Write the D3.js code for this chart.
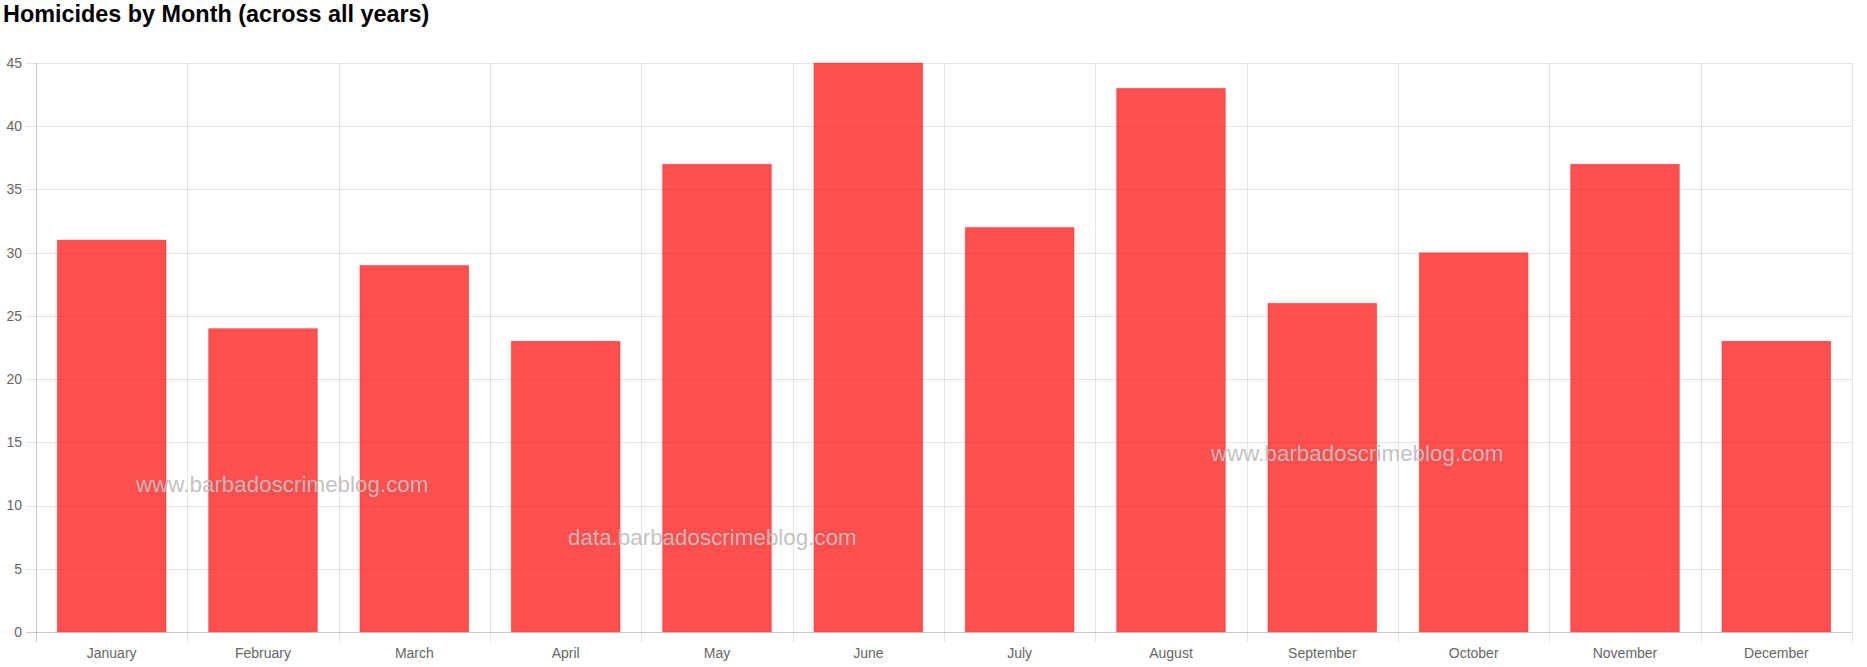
<!DOCTYPE html>
<html><head><meta charset="utf-8">
<script src="https://cdn.jsdelivr.net/npm/d3@7"></script>
<style>
html,body{margin:0;padding:0;background:#fff;}
svg{display:block;font-family:"Liberation Sans",Arial,sans-serif;}
</style></head>
<body><svg id="chart" width="1867" height="667"></svg>
<script>
const months = ["January","February","March","April","May","June","July","August","September","October","November","December"];
const homicides = [31,24,29,23,37,45,32,43,26,30,37,23];
const yTicks = [0,5,10,15,20,25,30,35,40,45];
const title = "Homicides by Month (across all years)";
const watermarks = [
  {text:"www.barbadoscrimeblog.com", x:136, y:492},
  {text:"data.barbadoscrimeblog.com", x:568, y:545},
  {text:"www.barbadoscrimeblog.com", x:1211, y:461}
];

const svg = d3.select("#chart");
const plotLeft = 36, plotRight = 1852, plotTop = 63, plotBottom = 632;

const x = d3.scaleBand().domain(months).range([plotLeft, plotRight]).paddingInner(0).paddingOuter(0);
const y = d3.scaleLinear().domain([0,45]).range([plotBottom, plotTop]);

svg.append("text").attr("x",3).attr("y",21.5)
  .attr("font-size",23.4).attr("font-weight","bold").attr("fill","#000").text(title);

// horizontal grid
svg.append("g").selectAll("line").data(yTicks).join("line")
  .attr("x1",plotLeft-10).attr("x2",plotRight)
  .attr("y1",d=>Math.round(y(d))+0.5).attr("y2",d=>Math.round(y(d))+0.5)
  .attr("stroke",d=>d===0?"rgba(0,0,0,0.2)":"rgba(0,0,0,0.1)");

// vertical grid
const vx = months.map(m=>x(m)).concat([plotRight]);
svg.append("g").selectAll("line").data(vx).join("line")
  .attr("x1",d=>Math.round(d)+0.5).attr("x2",d=>Math.round(d)+0.5)
  .attr("y1",plotTop).attr("y2",plotBottom+10)
  .attr("stroke",(d,i)=>i===0?"rgba(0,0,0,0.2)":"rgba(0,0,0,0.1)");

// y labels
svg.append("g").selectAll("text").data(yTicks).join("text")
  .attr("x",plotLeft-14).attr("y",d=>y(d)).attr("dy","0.35em")
  .attr("text-anchor","end").attr("font-size",14).attr("fill","#666").text(d=>d);

// bars
const bw = x.bandwidth()*0.72;
svg.append("g").selectAll("rect").data(homicides).join("rect")
  .attr("x",(d,i)=>x(months[i]) + (x.bandwidth()-bw)/2)
  .attr("width",bw)
  .attr("y",d=>y(d)).attr("height",d=>plotBottom-y(d))
  .attr("fill","rgba(255,0,0,0.69)")
  .attr("stroke","rgba(255,0,0,0.2)").attr("stroke-width",1);

// x labels
svg.append("g").selectAll("text").data(months).join("text")
  .attr("x",d=>x(d)+x.bandwidth()/2).attr("y",658)
  .attr("text-anchor","middle").attr("font-size",14).attr("fill","#666").text(d=>d);

// watermarks
svg.append("g").selectAll("text").data(watermarks).join("text")
  .attr("x",d=>d.x).attr("y",d=>d.y).attr("font-size",22.4)
  .attr("fill","rgba(190,190,190,0.95)").text(d=>d.text);
</script></body></html>
